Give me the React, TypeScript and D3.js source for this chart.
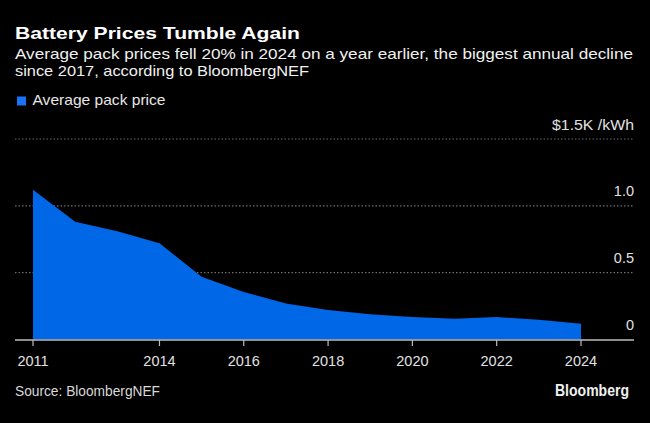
import React from "react";
import * as d3 from "d3";

const years = [2011, 2012, 2013, 2014, 2015, 2016, 2017, 2018, 2019, 2020, 2021, 2022, 2023, 2024];
const prices = [1.12, 0.88, 0.81, 0.72, 0.47, 0.355, 0.27, 0.22, 0.188, 0.168, 0.155, 0.168, 0.147, 0.117];
const xTickYears = [2011, 2014, 2016, 2018, 2020, 2022, 2024];
const yTicks = [0, 0.5, 1.0, 1.5];
const yTickLabels = ["0", "0.5", "1.0", "$1.5K /kWh"];

const W = 650;
const H = 423;
const FONT = "'Liberation Sans', Arial, sans-serif";
const BLUE = "#0067e6";

export default function App() {
  const x = d3.scaleLinear().domain([2011, 2024]).range([33, 581]);
  const y = d3.scaleLinear().domain([0, 1.5]).range([339.5, 139]);
  const data = years.map((yr, i) => ({ yr, v: prices[i] }));
  const area = d3
    .area<{ yr: number; v: number }>()
    .x((d) => x(d.yr))
    .y0(y(0))
    .y1((d) => y(d.v));

  const gridLeft = 15;
  const gridRight = 634;

  return (
    <svg
      width={W}
      height={H}
      style={{ position: "absolute", left: 0, top: 0, background: "#000" }}
      fontFamily={FONT}
    >
      <rect x={0} y={0} width={W} height={H} fill="#000" />
      <text x={15} y={38.5} fill="#fff" fontSize={17} fontWeight="bold" textLength={285} lengthAdjust="spacingAndGlyphs">
        Battery Prices Tumble Again
      </text>
      <text x={15} y={59} fill="#f0f0f0" fontSize={15} textLength={618} lengthAdjust="spacingAndGlyphs">
        Average pack prices fell 20% in 2024 on a year earlier, the biggest annual decline
      </text>
      <text x={15} y={76} fill="#f0f0f0" fontSize={15} textLength={294} lengthAdjust="spacingAndGlyphs">
        since 2017, according to BloombergNEF
      </text>
      <rect x={17} y={96.5} width={9} height={9} fill="#1a73f5" />
      <text x={32.5} y={105} fill="#e6e6e6" fontSize={14.5} textLength={133} lengthAdjust="spacingAndGlyphs">
        Average pack price
      </text>

      {yTicks.map((t, i) =>
        t === 0 ? null : (
          <line
            key={"g" + i}
            x1={gridLeft}
            x2={gridRight}
            y1={y(t)}
            y2={y(t)}
            stroke="#6e6e6e"
            strokeWidth={1.2}
            strokeDasharray="1.5,2"
          />
        )
      )}
      {yTicks.map((t, i) => (
        <text
          key={"yl" + i}
          x={gridRight}
          y={y(t) - 9.5}
          fill="#e0e0e0"
          fontSize={14.5}
          textAnchor="end"
          {...(i === yTicks.length - 1 ? { textLength: 82, lengthAdjust: "spacingAndGlyphs" } : {})}
        >
          {yTickLabels[i]}
        </text>
      ))}

      <path d={area(data) || ""} fill={BLUE} />

      <line x1={gridLeft} x2={gridRight} y1={340} y2={340} stroke="#bdbdbd" strokeWidth={1.5} />
      {xTickYears.map((yr) => (
        <g key={yr}>
          <line x1={x(yr)} x2={x(yr)} y1={340} y2={346} stroke="#bdbdbd" strokeWidth={1.2} />
          <text x={x(yr)} y={366} fill="#e0e0e0" fontSize={14.5} textAnchor="middle">
            {yr}
          </text>
        </g>
      ))}

      <text x={15} y={396} fill="#d9d9d9" fontSize={14} textLength={145} lengthAdjust="spacingAndGlyphs">
        Source: BloombergNEF
      </text>
      <text x={629} y={396} fill="#f0f0f0" fontSize={16} fontWeight="bold" textAnchor="end" textLength={74} lengthAdjust="spacingAndGlyphs">
        Bloomberg
      </text>
    </svg>
  );
}
